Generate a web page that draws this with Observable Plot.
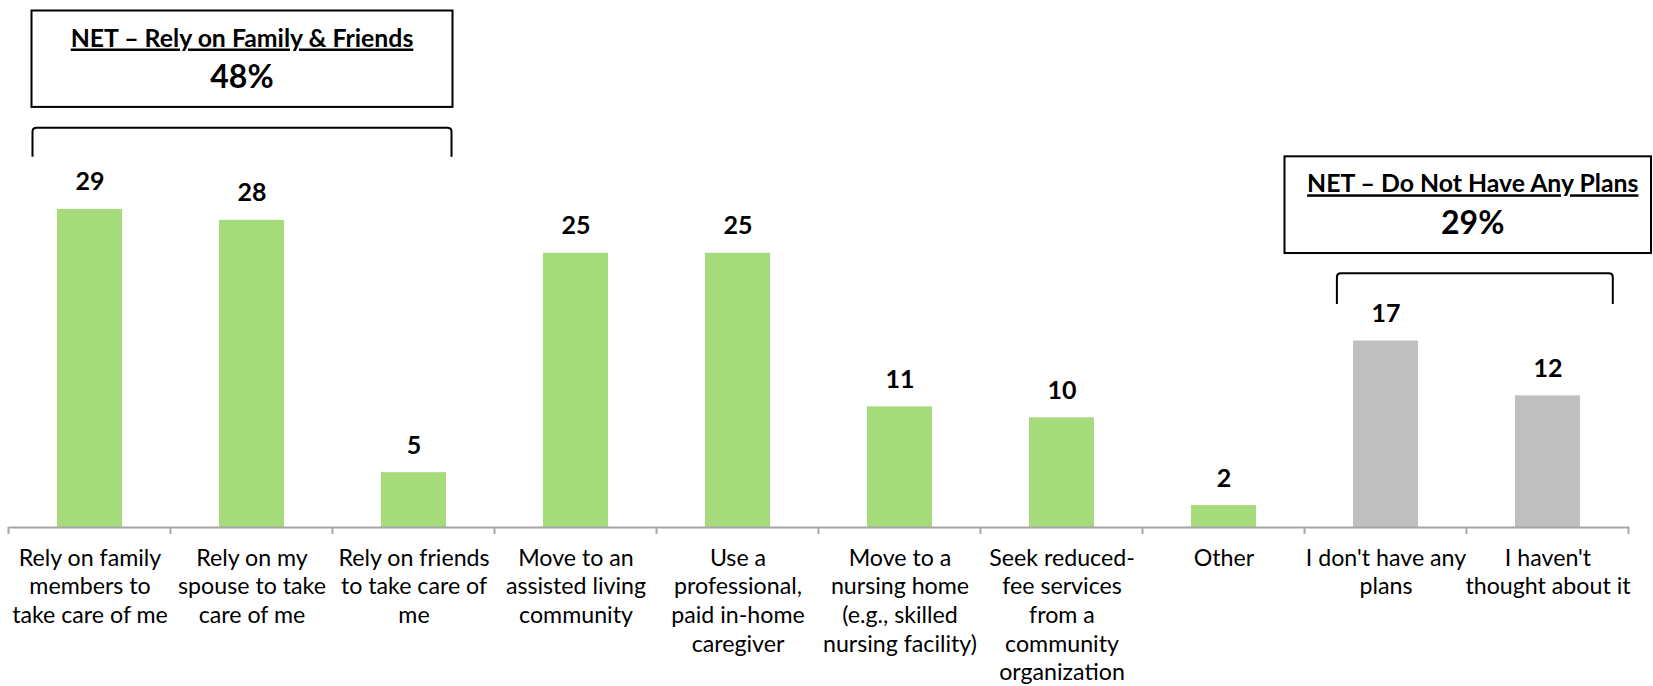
<!DOCTYPE html>
<html>
<head>
<meta charset="utf-8">
<script src="https://cdn.jsdelivr.net/npm/d3@7"></script>
<script src="https://cdn.jsdelivr.net/npm/@observablehq/plot@0.6"></script>
<style>
  html, body { margin: 0; padding: 0; background: #ffffff; }
  #chart svg { display: block; }
</style>
</head>
<body>
<div id="chart"></div>
<script>
// ---- data ----
const categories = [
  "Rely on family members to take care of me",
  "Rely on my spouse to take care of me",
  "Rely on friends to take care of me",
  "Move to an assisted living community",
  "Use a professional, paid in-home caregiver",
  "Move to a nursing home (e.g., skilled nursing facility)",
  "Seek reduced-fee services from a community organization",
  "Other",
  "I don't have any plans",
  "I haven't thought about it"
];
const values = [29, 28, 5, 25, 25, 11, 10, 2, 17, 12];
const tickLabels = [
  "Rely on family\nmembers to\ntake care of me",
  "Rely on my\nspouse to take\ncare of me",
  "Rely on friends\nto take care of\nme",
  "Move to an\nassisted living\ncommunity",
  "Use a\nprofessional,\npaid in-home\ncaregiver",
  "Move to a\nnursing home\n(e.g., skilled\nnursing facility)",
  "Seek reduced-\nfee services\nfrom a\ncommunity\norganization",
  "Other",
  "I don't have any\nplans",
  "I haven't\nthought about it"
];
const planGroup = ["plan", "plan", "plan", "plan", "plan", "plan", "plan", "plan", "none", "none"];
const netTitles = ["NET – Rely on Family & Friends", "NET – Do Not Have Any Plans"];
const netValues = [48, 29];
const netFirst = [categories[0], categories[8]];
const netLast = [categories[2], categories[9]];

const rows = categories.map((c, i) => ({cat: c, value: values[i], label: tickLabels[i], group: planGroup[i]}));

const FONT = "Lato, 'Open Sans', sans-serif";

const chart = Plot.plot({
  width: 1653,
  height: 686,
  marginLeft: 8.7,
  marginRight: 24,
  marginTop: 208.9,
  marginBottom: 159,
  style: {fontFamily: FONT, background: "#ffffff", color: "#000"},
  x: {domain: categories, paddingInner: 0.6, paddingOuter: 0.3, axis: null},
  y: {domain: [0, 29], axis: null},
  color: {domain: ["plan", "none"], range: ["#a6db7c", "#bfbfbf"]},
  marks: [
    Plot.barY(rows, {x: "cat", y: "value", fill: "group"}),
    Plot.ruleY([0], {stroke: "#a6a6a6", strokeWidth: 2}),
    Plot.text(rows, {x: "cat", y: "value", text: d => String(d.value), dy: -19, lineAnchor: "bottom",
      fontWeight: "bold", fontSize: 25, fill: "#000"}),
    Plot.text(rows, {x: "cat", text: "label", frameAnchor: "bottom", lineAnchor: "top", dy: 18,
      fontSize: 23.2, lineHeight: 1.235, fill: "#000"})
  ]
});
document.getElementById("chart").appendChild(chart);

// ---- annotations & category boundary ticks, placed via Plot's scales ----
const xs = chart.scale("x"), ys = chart.scale("y");
const step = xs.step, bw = xs.bandwidth;
const cellStart = c => xs.apply(c) - (step - bw) / 2;
const svg = d3.select(chart);
const y0 = ys.apply(0);

const bounds = categories.map(cellStart).concat([cellStart(categories[categories.length - 1]) + step]);
svg.append("g").selectAll("line").data(bounds).join("line")
  .attr("x1", d => d).attr("x2", d => d)
  .attr("y1", y0).attr("y2", y0 + 7)
  .attr("stroke", "#a6a6a6").attr("stroke-width", 2);

// layout offsets (pixels) relative to each group's span and tallest bar
const layout = [
  {boxL: 23, boxR: -42, boxT: -198.4, boxB: -102, brL: 24, brR: -43, brT: -81.2, brB: -52.2, dx: 0},
  {boxL: -20, boxR: 22.5, boxT: -184.2, boxB: -87.5, brL: 32.4, brR: -15.7, brT: -67.2, brB: -36.5, dx: 5}
];

netTitles.forEach((title, i) => {
  const L = layout[i];
  const s = cellStart(netFirst[i]);
  const e = cellStart(netLast[i]) + step;
  const i0 = categories.indexOf(netFirst[i]), i1 = categories.indexOf(netLast[i]);
  const top = ys.apply(d3.max(values.slice(i0, i1 + 1)));
  const g = svg.append("g");
  const bx0 = s + L.boxL, bx1 = e + L.boxR, by0 = top + L.boxT, by1 = top + L.boxB;
  g.append("rect").attr("x", bx0).attr("y", by0).attr("width", bx1 - bx0).attr("height", by1 - by0)
    .attr("fill", "none").attr("stroke", "#000").attr("stroke-width", 2);
  const cx = (bx0 + bx1) / 2 + L.dx;
  g.append("text").attr("x", cx).attr("y", by0 + 36).attr("text-anchor", "middle")
    .attr("font-family", FONT).attr("font-weight", "bold").attr("font-size", 24.8)
    .style("text-decoration", "underline").text(title);
  g.append("text").attr("x", cx).attr("y", by0 + 77.5).attr("text-anchor", "middle")
    .attr("font-family", FONT).attr("font-weight", "bold").attr("font-size", 32)
    .text(netValues[i] + "%");
  const l = s + L.brL, r = e + L.brR, t = top + L.brT, b = top + L.brB, rr = 4;
  g.append("path")
    .attr("d", `M${l},${b} L${l},${t + rr} Q${l},${t} ${l + rr},${t} L${r - rr},${t} Q${r},${t} ${r},${t + rr} L${r},${b}`)
    .attr("fill", "none").attr("stroke", "#000").attr("stroke-width", 2);
});
</script>
</body>
</html>
